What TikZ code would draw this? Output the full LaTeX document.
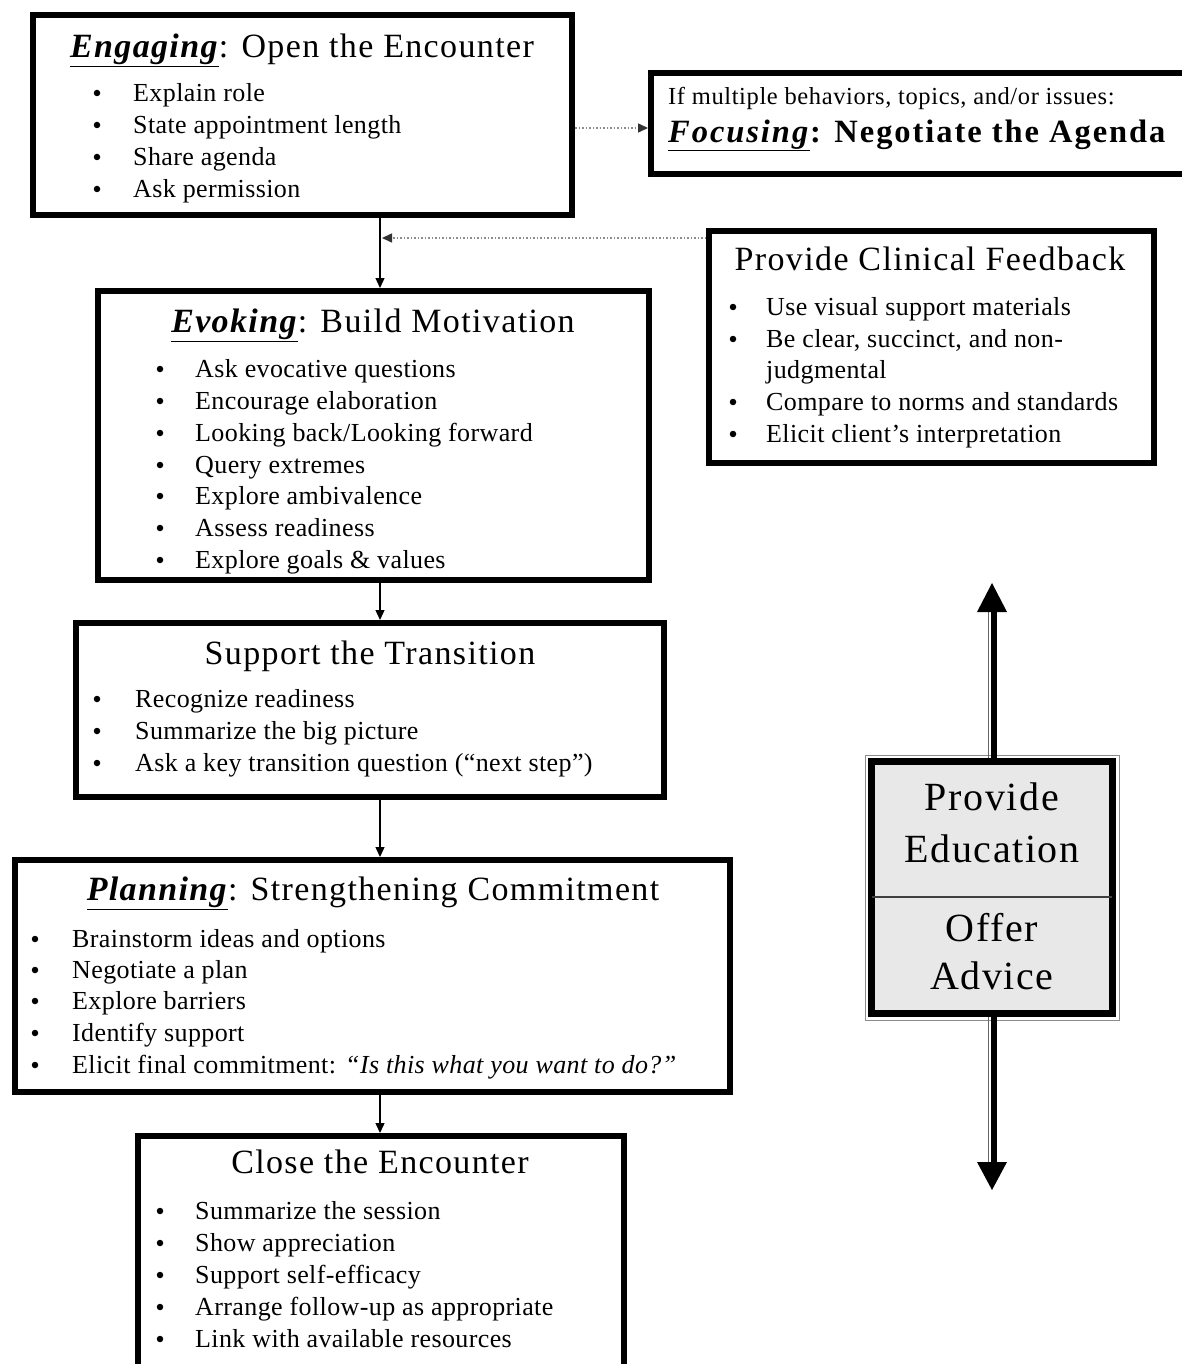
\documentclass[tikz,border=0pt]{standalone}
\usepackage{fontspec}
\setmainfont{Liberation Serif}
\newfontfamily\bodyff[LetterSpace=1.5]{Liberation Serif}
\newfontfamily\smallff[LetterSpace=2.5]{Liberation Serif}
\newfontfamily\titleff[LetterSpace=4]{Liberation Serif}
\newfontfamily\focusff[LetterSpace=6]{Liberation Serif}
\usetikzlibrary{arrows.meta,calc}
\newcommand\bodyfont{\bodyff\fontsize{26}{32}\selectfont}
\newcommand\titlefont{\titleff\fontsize{34}{40}\selectfont}
\newcommand\mybullets[4]{%
  \foreach \yy/\txt [count=\i] in {#4} {%
    \node[dot] (#1b\i) at (#2,\yy) {};
    \node[item] (#1t\i) at (#3,\yy) {\txt};
  }}
\begin{document}
\begin{tikzpicture}[x=1pt,y=-1pt,
  box/.style={draw, rectangle, line width=6pt, inner sep=0pt, outer sep=3pt},
  dot/.style={circle, fill=black, inner sep=0pt, minimum size=6.5pt},
  item/.style={anchor=mid west, inner sep=0pt, yshift=-6pt, font=\bodyfont},
  ttl/.style={anchor=mid, inner sep=0pt, yshift=-7pt, font=\titlefont},
  edutxt/.style={anchor=mid, inner sep=0pt, yshift=-9pt, font=\titleff\fontsize{40}{48}\selectfont},
  flow/.style={line width=1.3pt, -{Triangle[length=10pt,width=9pt]}},
  dotarrow/.style={line width=1.5pt, black!45, dotted, -{Triangle[length=10pt,width=9pt,color=black!80]}}]

\useasboundingbox (0,0) rectangle (1182,1364);
\fill[white] (0,0) rectangle (1182,1364);
\clip (0,0) rectangle (1182,1364);

% boxes
\node[box, minimum width=539pt, minimum height=200pt] (engage) at (302.5,115) {};
\node[box, minimum width=539pt, minimum height=101pt] (focus) at (920.5,123.5) {};
\node[box, minimum width=445pt, minimum height=232pt] (feedback) at (931.5,347) {};
\node[box, minimum width=551pt, minimum height=289pt] (evoke) at (373.5,435.5) {};
\node[box, minimum width=588pt, minimum height=174pt] (support) at (370,710) {};
\node[box, minimum width=715pt, minimum height=232pt] (plan) at (372.5,976) {};
\node[box, minimum width=486pt, minimum height=264pt] (close) at (381,1268) {};
\node[draw, rectangle, fill=black!9, line width=7pt, inner sep=0pt, outer sep=3.5pt,
      minimum width=241pt, minimum height=252pt] (edu) at (992,887.5) {};
\draw[black!45, line width=1pt] ($(edu.north west)+(-3,-3)$) rectangle ($(edu.south east)+(3,3)$);
\coordinate (divy) at (0,897);
\draw[line width=1.5pt, black!75, shorten <=4pt, shorten >=4pt] (edu.west |- divy) -- (edu.east |- divy);

% flow arrows
\coordinate (ax) at (380,0);
\draw[flow] (engage.south -| ax) -- (evoke.north -| ax);
\draw[flow] (evoke.south -| ax) -- (support.north -| ax);
\draw[flow] (support.south -| ax) -- (plan.north -| ax);
\draw[flow] (plan.south -| ax) -- (close.north -| ax);
\coordinate (y1) at (0,128);
\draw[dotarrow] (engage.east |- y1) -- (focus.west |- y1);
\coordinate (fbend) at (382,238);
\draw[dotarrow] (feedback.west |- fbend) -- (fbend);

% big double arrows
\coordinate (uptip) at (992,583);
\coordinate (dntip) at (992,1190);
\draw[line width=6pt, shorten >=27pt] ([xshift=2pt]edu.north) -- ([xshift=2pt]uptip);
\draw[line width=1pt, black!60, shorten >=27pt] ([xshift=-3.5pt]edu.north) -- ([xshift=-3.5pt]uptip);
\fill (uptip) -- ++(-15,29) -- ++(30,0) -- cycle;
\draw[line width=6pt, shorten >=26pt] ([xshift=2pt]edu.south) -- ([xshift=2pt]dntip);
\draw[line width=1pt, black!60, shorten >=26pt] ([xshift=-3.5pt]edu.south) -- ([xshift=-3.5pt]dntip);
\fill (dntip) -- ++(-15,-28) -- ++(30,0) -- cycle;

% texts
\node[ttl] (engageT) at (302,48) {\underline{\textbf{\textit{Engaging}}}: Open the Encounter};
\mybullets{e}{97}{133}{93/Explain role,125/State appointment length,157/Share agenda,189/Ask permission}

\node[anchor=mid west, inner sep=0pt, yshift=-5pt, font=\smallff\fontsize{24.5}{28}\selectfont] (focusA) at (668,97) {If multiple behaviors, topics, and/or issues:};
\node[anchor=mid west, inner sep=0pt, yshift=-6pt, font=\focusff\fontsize{32.5}{38}\selectfont\bfseries] (focusB) at (668,134) {\underline{\textit{Focusing}}: Negotiate the Agenda};

\node[ttl] (fbT) at (930,261) {Provide Clinical Feedback};
\mybullets{f}{733}{766}{307/Use visual support materials,339/{Be clear, succinct, and non-},402/Compare to norms and standards,434/Elicit client’s interpretation}
\node[item] (fcont) at (766,370) {judgmental};

\node[ttl] (evT) at (373,323) {\underline{\textbf{\textit{Evoking}}}: Build Motivation};
\mybullets{v}{160}{195}{369/Ask evocative questions,401/Encourage elaboration,433/{Looking back/Looking forward},465/Query extremes,496/Explore ambivalence,528/Assess readiness,560/Explore goals \& values}

\node[ttl] (supT) at (370,655) {Support the Transition};
\mybullets{s}{97}{135}{699/Recognize readiness,731/Summarize the big picture,763/{Ask a key transition question (“next step”)}}

\node[ttl] (plT) at (373,891) {\underline{\textbf{\textit{Planning}}}: Strengthening Commitment};
\mybullets{p}{35}{72}{939/Brainstorm ideas and options,970/Negotiate a plan,1001/Explore barriers,1033/Identify support,1065/{Elicit final commitment: \textit{“Is this what you want to do?”}}}

\node[ttl] (clT) at (380,1164) {Close the Encounter};
\mybullets{c}{160}{195}{1211/Summarize the session,1243/Show appreciation,1275/Support self-efficacy,1307/Arrange follow-up as appropriate,1339/Link with available resources}

\node[edutxt] (edu1) at (992,799) {Provide};
\node[edutxt] (edu2) at (992,851) {Education};
\node[edutxt] (edu3) at (992,930) {Offer};
\node[edutxt] (edu4) at (992,978) {Advice};
\end{tikzpicture}
\end{document}
